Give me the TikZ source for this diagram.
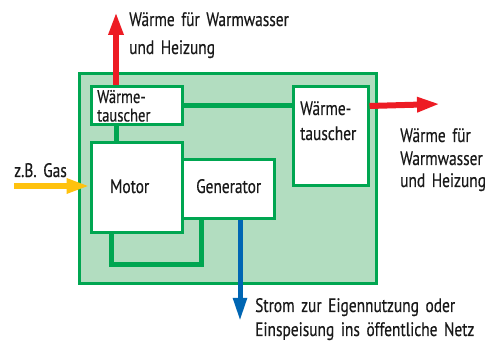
\documentclass[tikz,border=0pt]{standalone}
\usepackage{fontspec}
\setmainfont{PT Sans}[FakeStretch=0.79, WordSpace=1.6, FakeBold=0.4]
\usetikzlibrary{arrows.meta,calc}
\definecolor{gr}{HTML}{00A651}
\definecolor{lgr}{HTML}{B2DDC0}
\definecolor{rd}{HTML}{ED1C24}
\definecolor{yl}{HTML}{FFC20E}
\definecolor{bl}{HTML}{0066B3}
\begin{document}
\begin{tikzpicture}[x=1pt,y=-1pt,
  box/.style={draw=gr, line width=3pt, fill=white, inner sep=0pt},
  lbl/.style={anchor=base west, inner sep=0pt, text=black!90, font=\fontsize{19.5}{20}\selectfont},
  pipe/.style={draw=gr, line width=5pt},
  flow/.style={line width=6pt, -{Triangle[length=23pt,width=14pt]}}
]
\useasboundingbox (0,0) rectangle (499,342);
% outer frame
\node[draw=gr, line width=3pt, fill=lgr, inner sep=0pt, minimum width=297pt, minimum height=210pt] (frame) at (227.5,179) {};
% helper coordinates
\coordinate (loopA) at (111,265);
\coordinate (loopB) at (201,265);
% boxes (positions)
\path (136.5,106) node[box, minimum width=91pt, minimum height=38pt] (wt1) {};
\path (136.5,188) node[box, minimum width=91pt, minimum height=90pt] (motor) {};
\path (228,189.5) node[box, minimum width=92pt, minimum height=59pt] (gen) {};
\path (330.5,136.5) node[box, minimum width=75pt, minimum height=99pt] (wt2) {};
% pipes
\draw[pipe] (wt1.east) -- (wt1.east -| wt2.west);
\draw[pipe] ([xshift=-20.5pt]wt1.south) -- ([xshift=-20.5pt]wt1.south |- motor.north);
\draw[pipe] ($(gen.north east)!0.25!(gen.south east)$) -- ($(gen.north east)!0.25!(gen.south east)$ -| wt2.west);
\draw[pipe] ([xshift=-25.5pt]motor.south) |- (loopA) -- (loopB) -- (loopB |- gen.south);
% redraw boxes on top
\path (136.5,106) node[box, minimum width=91pt, minimum height=38pt] {};
\path (136.5,188) node[box, minimum width=91pt, minimum height=90pt] {};
\path (228,189.5) node[box, minimum width=92pt, minimum height=59pt] {};
\path (330.5,136.5) node[box, minimum width=75pt, minimum height=99pt] {};
% texts in boxes
\node[lbl, font=\fontsize{18.5}{20}\selectfont] (t1a) at (97,103) {Wärme-};
\node[lbl, font=\fontsize{18.5}{20}\selectfont] (t1b) at (97,121.5) {tauscher};
\node[lbl] (t2a) at (300,115) {Wärme-};
\node[lbl] (t2b) at (300,140) {tauscher};
\node[lbl] (tm) at (110,193) {Motor};
\node[lbl] (tg) at (196,193) {Generator};
% flow arrows
\coordinate (upEnd) at (116,12);
\coordinate (rightEnd) at (440,104);
\coordinate (gasStart) at (14,186);
\coordinate (downEnd) at (240,321);
\draw[flow, rd] ([xshift=-20.5pt]wt1.north) -- (upEnd);
\draw[flow, rd] (wt2.east |- wt1.east) -- (rightEnd);
\draw[flow, yl] (gasStart) -- (gasStart -| motor.west);
\draw[flow, bl, line width=5pt, -{Triangle[length=23pt,width=13pt]}] ([xshift=12pt]gen.south) -- (downEnd);
% outside labels
\node[lbl] (l1) at (129,26) {Wärme für Warmwasser};
\node[lbl] (l2) at (129,54) {und Heizung};
\node[lbl] (r1) at (400,142) {Wärme für};
\node[lbl] (r2) at (400,165) {Warmwasser};
\node[lbl] (r3) at (400,187) {und Heizung};
\node[lbl] (gas) at (14,177) {z.B. Gas};
\node[lbl] (s1) at (255,312) {Strom zur Eigennutzung oder};
\node[lbl] (s2) at (255,336) {Einspeisung ins öffentliche Netz};
\end{tikzpicture}
\end{document}
